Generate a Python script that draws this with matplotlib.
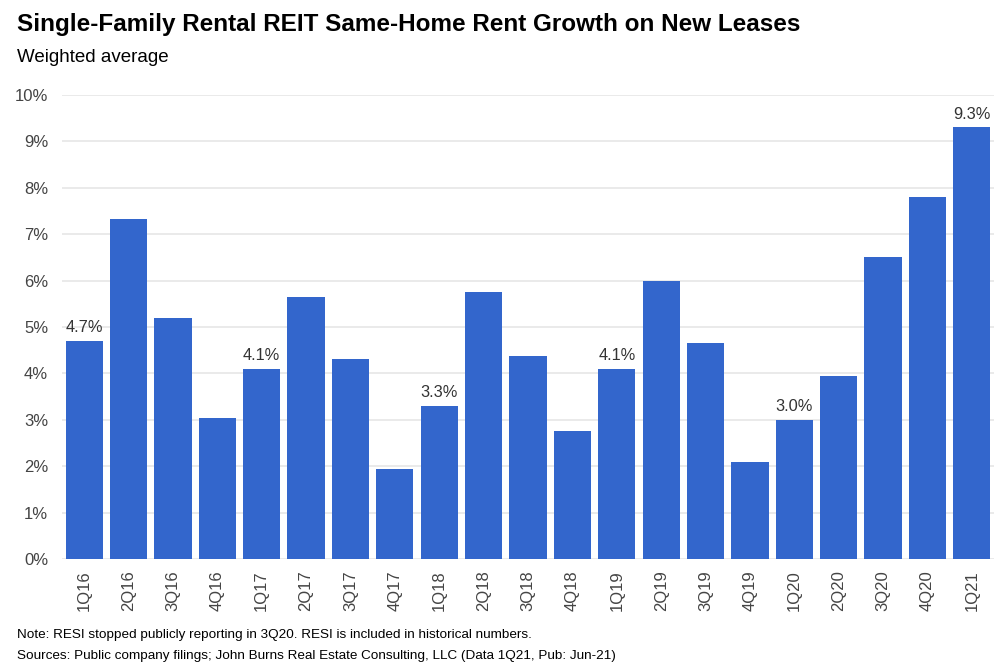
import numpy as np
import matplotlib.pyplot as plt

quarters = ['1Q16', '2Q16', '3Q16', '4Q16', '1Q17', '2Q17', '3Q17', '4Q17',
            '1Q18', '2Q18', '3Q18', '4Q18', '1Q19', '2Q19', '3Q19', '4Q19',
            '1Q20', '2Q20', '3Q20', '4Q20', '1Q21']
growth = [4.7, 7.33, 5.2, 3.03, 4.1, 5.65, 4.3, 1.93,
          3.3, 5.75, 4.37, 2.75, 4.1, 6.0, 4.65, 2.1,
          3.0, 3.95, 6.5, 7.8, 9.3]
labelled = ['1Q16', '1Q17', '1Q18', '1Q19', '1Q20', '1Q21']

plt.rcParams['font.family'] = ['Liberation Sans', 'DejaVu Sans']

fig = plt.figure(figsize=(10.07, 6.68), dpi=100)
ax = fig.add_axes([62 / 1007, 1 - 559 / 668, (994 - 62) / 1007, (559 - 95) / 668])

x = np.arange(len(quarters))
ax.bar(x, growth, width=0.84, color='#3366cc', zorder=2)

for i, q in enumerate(quarters):
    if q in labelled:
        ax.text(i, growth[i] + 0.12, f'{growth[i]:.1f}%', ha='center', va='bottom',
                fontsize=11.8, color='#333333')

ax.set_xlim(-0.5, len(quarters) - 0.5)
ax.set_ylim(0, 10)
ax.set_yticks(range(0, 11))
ax.set_yticklabels([f'{v}%' for v in range(0, 11)])
ax.set_xticks(x)
ax.set_xticklabels(quarters, rotation=90)
ax.tick_params(axis='both', length=0, labelsize=12, labelcolor='#444444')
ax.tick_params(axis='y', pad=10)
ax.tick_params(axis='x', pad=8)
ax.grid(axis='y', color='#e6e6e6', linewidth=1.2, zorder=0)
for s in ax.spines.values():
    s.set_visible(False)

fig.text(17 / 1007, 1 - 25 / 668, 'Single-Family Rental REIT Same-Home Rent Growth on New Leases',
         fontsize=17.5, fontweight='bold', va='center', ha='left', color='black')
fig.text(17 / 1007, 1 - 57 / 668, 'Weighted average', fontsize=13.5, va='center', ha='left',
         color='black')
fig.text(17 / 1007, 1 - 635 / 668,
         'Note: RESI stopped publicly reporting in 3Q20. RESI is included in historical numbers.',
         fontsize=9.7, va='center', ha='left', color='black')
fig.text(17 / 1007, 1 - 656 / 668,
         'Sources: Public company filings; John Burns Real Estate Consulting, LLC (Data 1Q21, Pub: Jun-21)',
         fontsize=9.7, va='center', ha='left', color='black')

fig.savefig('out.png', dpi=100)
